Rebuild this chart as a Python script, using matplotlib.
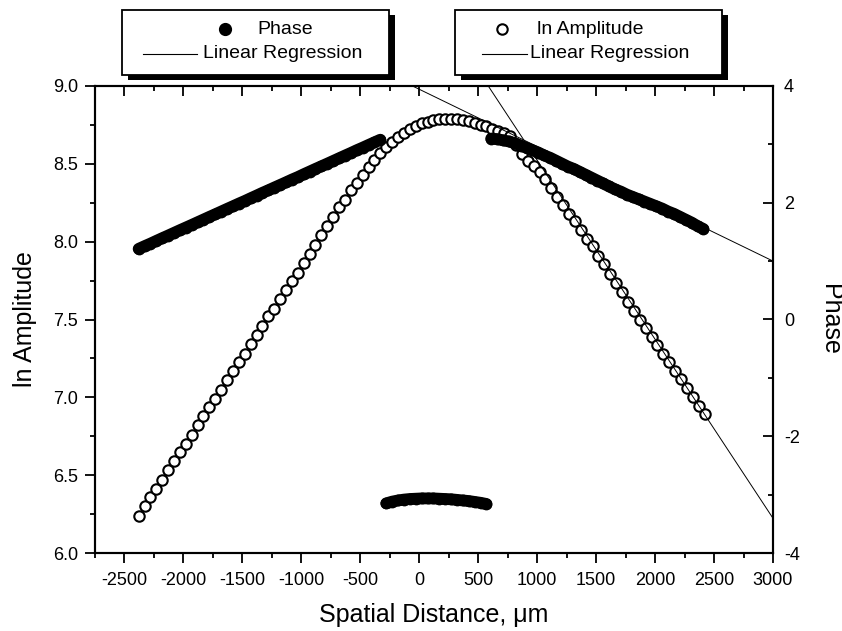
import matplotlib
matplotlib.use("Agg")
import matplotlib.pyplot as plt
import numpy as np
from matplotlib.patches import Rectangle
from matplotlib.lines import Line2D

plt.rcParams["font.family"] = ["Liberation Sans", "DejaVu Sans"]
plt.rcParams["axes.unicode_minus"] = False

# ln amplitude (open circles)
amp_x = [-2380, -2330, -2280, -2230, -2180, -2130, -2080, -2030, -1980, -1930,
         -1880, -1830, -1780, -1730, -1680, -1630, -1580, -1530, -1480, -1430,
         -1380, -1330, -1280, -1230, -1180, -1130, -1080, -1030, -980, -930,
         -880, -830, -780, -730, -680, -630, -580, -530, -480, -430,
         -380, -330, -280, -230, -180, -130, -80, -30, 20, 70,
         120, 170, 220, 270, 320, 370, 420, 470, 520, 570,
         620, 670, 720, 770, 820, 870, 920, 970, 1020, 1070,
         1120, 1170, 1220, 1270, 1320, 1370, 1420, 1470, 1520, 1570,
         1620, 1670, 1720, 1770, 1820, 1870, 1920, 1970, 2020, 2070,
         2120, 2170, 2220, 2270, 2320, 2370, 2420]
amp_y = [6.24, 6.30, 6.36, 6.41, 6.47, 6.53, 6.59, 6.65, 6.70, 6.76,
         6.82, 6.88, 6.94, 6.99, 7.05, 7.11, 7.17, 7.23, 7.28, 7.34,
         7.40, 7.46, 7.52, 7.57, 7.63, 7.69, 7.75, 7.80, 7.86, 7.92,
         7.98, 8.04, 8.10, 8.16, 8.22, 8.27, 8.33, 8.38, 8.43, 8.48,
         8.525, 8.57, 8.61, 8.64, 8.675, 8.70, 8.725, 8.745, 8.76, 8.77,
         8.78, 8.786, 8.79, 8.79, 8.788, 8.782, 8.772, 8.76, 8.75, 8.74,
         8.725, 8.71, 8.695, 8.68, 8.62, 8.56, 8.52, 8.485, 8.45, 8.40,
         8.345, 8.29, 8.235, 8.18, 8.13, 8.075, 8.02, 7.97, 7.91, 7.855,
         7.795, 7.735, 7.675, 7.615, 7.555, 7.50, 7.445, 7.39, 7.335, 7.28,
         7.225, 7.17, 7.115, 7.06, 7.005, 6.945, 6.89]

# phase (filled dots), three pieces
ph_left_x = [-2380, -2330, -2280, -2230, -2180, -2130, -2080, -2030, -1980, -1930,
             -1880, -1830, -1780, -1730, -1680, -1630, -1580, -1530, -1480, -1430,
             -1380, -1330, -1280, -1230, -1180, -1130, -1080, -1030, -980, -930,
             -880, -830, -780, -730, -680, -630, -580, -530, -480, -430,
             -380, -330]
ph_left_y = [1.21, 1.256, 1.30, 1.347, 1.393, 1.438, 1.484, 1.53, 1.575, 1.62,
             1.666, 1.712, 1.758, 1.803, 1.849, 1.895, 1.94, 1.986, 2.03, 2.077,
             2.123, 2.17, 2.214, 2.26, 2.305, 2.35, 2.397, 2.44, 2.488, 2.534,
             2.58, 2.625, 2.67, 2.716, 2.762, 2.808, 2.853, 2.90, 2.944, 2.99,
             3.035, 3.08]
ph_mid_x = [-280, -230, -180, -130, -80, -30, 20, 70, 120, 170,
            220, 270, 320, 370, 420, 470, 520, 570]
ph_mid_y = [-3.15, -3.12, -3.10, -3.085, -3.075, -3.07, -3.065, -3.065, -3.065, -3.07,
            -3.075, -3.08, -3.09, -3.10, -3.11, -3.125, -3.14, -3.16]
ph_right_x = [610, 660, 710, 760, 810, 860, 910, 960, 1010, 1060,
              1110, 1160, 1210, 1260, 1310, 1360, 1410, 1460, 1510, 1560,
              1610, 1660, 1710, 1760, 1810, 1860, 1910, 1960, 2010, 2060,
              2110, 2160, 2210, 2260, 2310, 2360, 2410]
ph_right_y = [3.10, 3.09, 3.07, 3.05, 3.02, 2.98, 2.94, 2.90, 2.86, 2.81,
              2.77, 2.72, 2.67, 2.62, 2.58, 2.53, 2.48, 2.43, 2.38, 2.33,
              2.28, 2.23, 2.19, 2.14, 2.10, 2.06, 2.02, 1.98, 1.94, 1.90,
              1.85, 1.81, 1.76, 1.71, 1.66, 1.60, 1.55]

# linear regressions (intercept, slope)
amp_fit = (9.673, -0.00115)
ph_fit = (3.944, -0.000981)
fit_x = [-200, 3000]

W, H = 842, 631
fig = plt.figure(figsize=(W / 100, H / 100), dpi=100)
ax = fig.add_axes([95 / W, 1 - 553 / H, (773 - 95) / W, (553 - 86) / H])
ax2 = ax.twinx()

ax.plot(amp_x, amp_y, "o", ms=7.5, mfc="white", mec="black", mew=1.5, zorder=3)
ax.plot(fit_x, [amp_fit[0] + amp_fit[1] * x for x in fit_x], "-", color="black", lw=0.7, zorder=4)

# filled dots are packed so tightly they form a solid band
for xs, ys in [(ph_left_x, ph_left_y), (ph_mid_x, ph_mid_y), (ph_right_x, ph_right_y)]:
    ax2.plot(xs, ys, "-o", ms=8.5, mew=0, lw=8.5, color="black",
             solid_capstyle="round", solid_joinstyle="round", zorder=3)
ax2.plot(fit_x, [ph_fit[0] + ph_fit[1] * x for x in fit_x], "-", color="black", lw=0.7, zorder=4)

ax.set_xlim(-2750, 3000)
ax.set_ylim(6.0, 9.0)
ax2.set_ylim(-4, 4)
ax.set_xticks(np.arange(-2500, 3001, 500))
ax.set_xticks(np.arange(-2750, 3001, 250), minor=True)
ax.set_yticks(np.arange(6.0, 9.01, 0.5))
ax.set_yticks(np.arange(6.0, 9.01, 0.25), minor=True)
ax.set_yticklabels([f"{v:.1f}" for v in np.arange(6.0, 9.01, 0.5)])
ax2.set_yticks([-4, -2, 0, 2, 4])
ax2.set_yticks([-3, -1, 1, 3], minor=True)

for a in (ax, ax2):
    for s in a.spines.values():
        s.set_linewidth(1.5)
ax.tick_params(axis="x", which="both", direction="out", top=True, labelsize=13, width=1.3, pad=7)
ax.tick_params(axis="x", which="major", length=7)
ax.tick_params(axis="x", which="minor", length=3.5)
ax.xaxis.set_tick_params(which="both", labeltop=False)
ax.tick_params(axis="y", which="both", direction="out", labelsize=13, width=1.3, pad=5)
ax.tick_params(axis="y", which="major", length=7)
ax.tick_params(axis="y", which="minor", length=3.5)
ax2.tick_params(axis="y", which="both", direction="in", labelsize=13, width=1.3, pad=8)
ax2.tick_params(axis="y", which="major", length=7)
ax2.tick_params(axis="y", which="minor", length=3.5)

# top ticks point inward in the original
for t in ax.xaxis.get_major_ticks() + ax.xaxis.get_minor_ticks():
    t.tick2line.set_marker(3)

ax.set_xlabel("Spatial Distance, μm", fontsize=18, labelpad=10)
ax.set_ylabel("ln Amplitude", fontsize=18, labelpad=12)
ax2.set_ylabel("Phase", fontsize=18, rotation=270, labelpad=30)


def fp(x, y):
    return x / W, 1 - y / H


def legend_box(x0, y0, x1, y1, marker_x, marker_fill, label1, line_x0, line_x1, text1_x, text2_x):
    fig.add_artist(Rectangle(fp(x0 + 6, y1 + 5), (x1 - x0) / W, (y1 - y0) / H,
                             transform=fig.transFigure, facecolor="black", edgecolor="black", lw=0))
    fig.add_artist(Rectangle(fp(x0, y1), (x1 - x0) / W, (y1 - y0) / H,
                             transform=fig.transFigure, facecolor="white", edgecolor="black", lw=1.3))
    mx, my = fp(marker_x, 29)
    fig.add_artist(Line2D([mx], [my], marker="o", ms=8 if marker_fill else 7.5,
                          mfc="black" if marker_fill else "white", mec="black", mew=1.5,
                          transform=fig.transFigure))
    fig.text(*fp(text1_x, 29), label1, fontsize=14, va="center", ha="left")
    lx0, ly = fp(line_x0, 54)
    lx1, _ = fp(line_x1, 54)
    fig.add_artist(Line2D([lx0, lx1], [ly, ly], color="black", lw=0.8, transform=fig.transFigure))
    fig.text(*fp(text2_x, 54), "Linear Regression", fontsize=14, va="center", ha="left")


legend_box(122, 10, 389, 75, 225, True, "Phase", 143, 197, 257, 203)
legend_box(455, 10, 722, 75, 502, False, "ln Amplitude", 482, 527, 537, 530)

fig.savefig("out.png", dpi=100)
